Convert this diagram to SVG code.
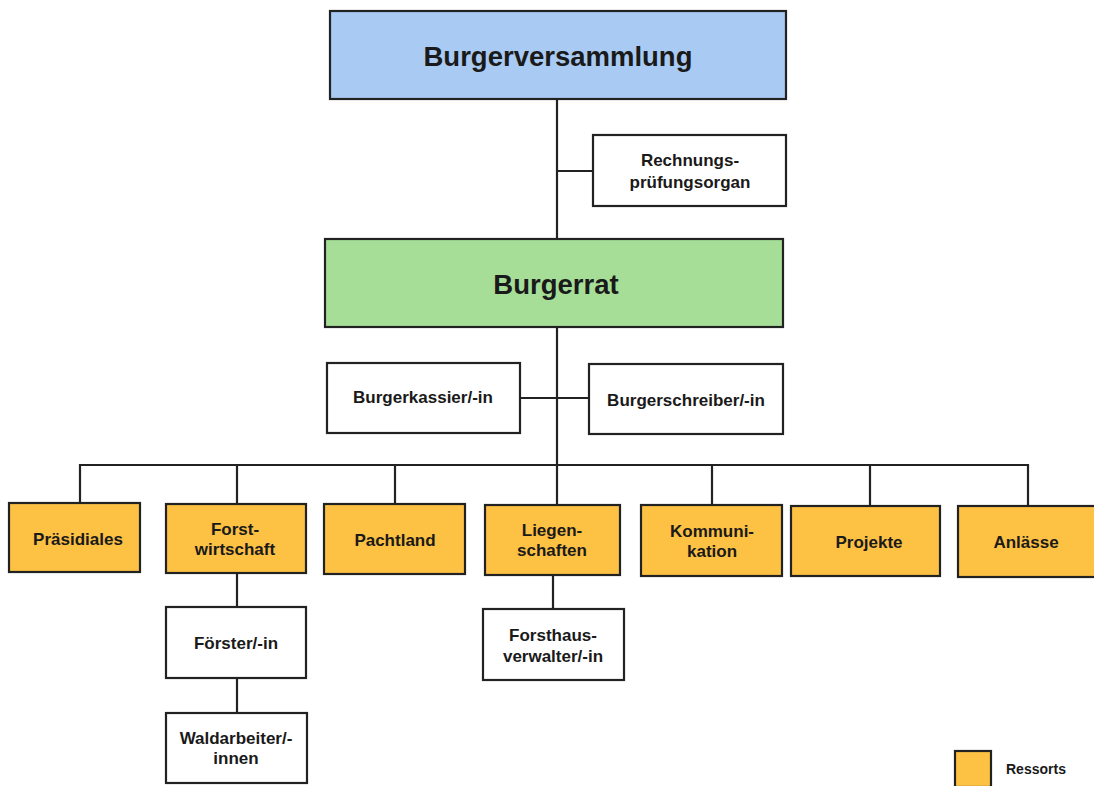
<svg xmlns="http://www.w3.org/2000/svg" width="1094" height="786" viewBox="0 0 1094 786">
<style>
text{font-family:"Liberation Sans",Arial,sans-serif;font-weight:bold;fill:#1a1a1a;text-anchor:middle;dominant-baseline:central}
.box{stroke:#222;stroke-width:2.2}
.w{fill:#fff}
.o{fill:#fdc143}
.s{font-size:17px}
.l{font-size:27.5px}
#connectors line{stroke:#222;stroke-width:2.2}
</style>
<rect width="1094" height="786" fill="#fff"/>
<g id="connectors">
<line x1="557" y1="99" x2="557" y2="240"/>
<line x1="557" y1="171" x2="593" y2="171"/>
<line x1="557" y1="327" x2="557" y2="504"/>
<line x1="520" y1="398" x2="589" y2="398"/>
<line x1="79" y1="465" x2="1029" y2="465"/>
<line x1="80" y1="464" x2="80" y2="503"/>
<line x1="237" y1="464" x2="237" y2="504"/>
<line x1="395" y1="464" x2="395" y2="504"/>
<line x1="712" y1="464" x2="712" y2="505"/>
<line x1="870" y1="464" x2="870" y2="506"/>
<line x1="1028" y1="464" x2="1028" y2="506"/>
<line x1="237" y1="573" x2="237" y2="607"/>
<line x1="237" y1="678" x2="237" y2="713"/>
<line x1="553" y1="575" x2="553" y2="609"/>
</g>
<g id="burgerversammlung"><rect class="box" x="330" y="11" width="456" height="88" fill="#a9caf3"/><text class="l" x="558" y="56">Burgerversammlung</text></g>
<g id="rechnungspruefung"><rect class="box w" x="593" y="135" width="193" height="71"/><text class="s" x="690" y="160">Rechnungs-</text><text class="s" x="690" y="182">prüfungsorgan</text></g>
<g id="burgerrat"><rect class="box" x="325" y="239" width="458" height="88" fill="#a6de98"/><text class="l" x="556" y="284">Burgerrat</text></g>
<g id="burgerkassier"><rect class="box w" x="327" y="363" width="193" height="70"/><text class="s" x="423" y="397">Burgerkassier/-in</text></g>
<g id="burgerschreiber"><rect class="box w" x="589" y="364" width="194" height="70"/><text class="s" x="686" y="400">Burgerschreiber/-in</text></g>
<g id="praesidiales"><rect class="box o" x="9" y="503" width="131" height="69"/><text class="s" x="78" y="539">Präsidiales</text></g>
<g id="forstwirtschaft"><rect class="box o" x="166" y="504" width="140" height="69"/><text class="s" x="235" y="529">Forst-</text><text class="s" x="235" y="549">wirtschaft</text></g>
<g id="pachtland"><rect class="box o" x="324" y="504" width="141" height="70"/><text class="s" x="395" y="540">Pachtland</text></g>
<g id="liegenschaften"><rect class="box o" x="485" y="505" width="135" height="70"/><text class="s" x="552" y="530">Liegen-</text><text class="s" x="552" y="550">schaften</text></g>
<g id="kommunikation"><rect class="box o" x="641" y="505" width="141" height="71"/><text class="s" x="712" y="531">Kommuni-</text><text class="s" x="712" y="551">kation</text></g>
<g id="projekte"><rect class="box o" x="791" y="506" width="149" height="70"/><text class="s" x="869" y="542">Projekte</text></g>
<g id="anlaesse"><rect class="box o" x="958" y="506" width="140" height="71"/><text class="s" x="1026" y="542">Anlässe</text></g>
<g id="foerster"><rect class="box w" x="166" y="607" width="140" height="71"/><text class="s" x="236" y="643">Förster/-in</text></g>
<g id="waldarbeiter"><rect class="box w" x="166" y="713" width="141" height="70"/><text class="s" x="236" y="738">Waldarbeiter/-</text><text class="s" x="236" y="758">innen</text></g>
<g id="forsthausverwalter"><rect class="box w" x="483" y="609" width="141" height="71"/><text class="s" x="553" y="635">Forsthaus-</text><text class="s" x="553" y="656">verwalter/-in</text></g>
<g id="legend"><rect class="box o" x="955" y="751" width="36" height="36"/><text x="1006" y="769" font-size="14" style="text-anchor:start">Ressorts</text></g>
</svg>
